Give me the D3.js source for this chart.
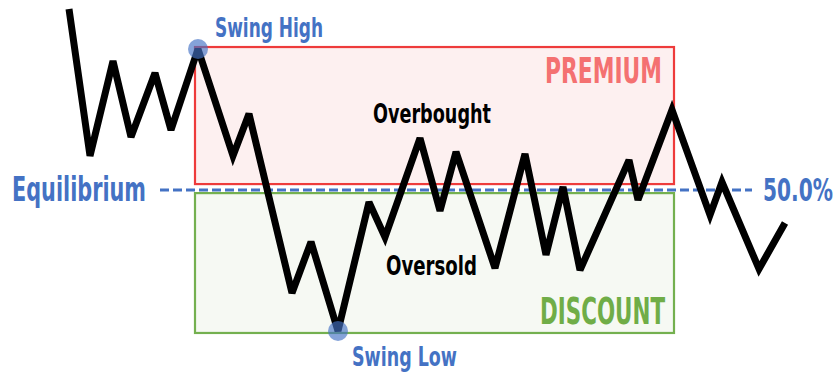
<!DOCTYPE html>
<html><head><meta charset="utf-8">
<script src="https://cdn.jsdelivr.net/npm/d3@7"></script>
<style>html,body{margin:0;padding:0;background:#fff;}svg{display:block;}</style>
</head><body>
<svg id="c" width="838" height="374"></svg>
<script>
// time (arbitrary units) and price (% of swing range: 0 = swing low, 100 = swing high)
const times  = [69, 90, 113, 131, 155, 171, 198, 233, 249, 292, 311, 338, 369, 385, 420, 440, 456, 495, 525, 546, 563, 580, 629, 638, 672, 710, 722, 759, 785];
const prices = [114.2, 62.1, 95.7, 68.8, 91.5, 71.3, 100, 62.1, 77.0, 13.5, 31.6, 0, 45.7, 33.3, 68.4, 42.6, 63.5, 22.3, 62.8, 27.0, 51.1, 21.6, 60.6, 46.5, 78.4, 41.1, 52.8, 22.0, 38.3];
const zones = ["PREMIUM", "DISCOUNT"];
const zoneStart = [195, 195];
const zoneEnd = [674, 674];
const zoneTop = [100.7, 48.9];
const zoneBottom = [52.1, -0.7];
const equilibriumLevel = 50;
const equilibriumLabel = "Equilibrium";
const pctLabel = "50.0%";
const swingLabels = ["Swing High", "Swing Low"];
const swingIdx = [6, 11];
const stateLabels = ["Overbought", "Oversold"];

const svg = d3.select("#c");
const x = d3.scaleLinear().domain([0, 838]).range([0, 838]);
const y = d3.scaleLinear().domain([0, 100]).range([331, 49]);
const FONT = "'DejaVu Sans Condensed','Liberation Sans Narrow',sans-serif";

// zones
const zoneFill = ["#fdf0f0", "#f6f9f3"];
const zoneStroke = ["#ee3b3b", "#74b04f"];
svg.selectAll("rect.zone").data(zones).enter().append("rect").attr("class", "zone")
  .attr("x", (d, i) => x(zoneStart[i])).attr("width", (d, i) => x(zoneEnd[i]) - x(zoneStart[i]))
  .attr("y", (d, i) => y(zoneTop[i])).attr("height", (d, i) => y(zoneBottom[i]) - y(zoneTop[i]))
  .attr("fill", (d, i) => zoneFill[i])
  .attr("stroke", (d, i) => zoneStroke[i]).attr("stroke-width", 2.2);

// equilibrium dashed line
svg.append("line").attr("x1", x(160)).attr("x2", x(752)).attr("y1", y(equilibriumLevel)).attr("y2", y(equilibriumLevel))
  .attr("stroke", "#4472c4").attr("stroke-width", 3).attr("stroke-dasharray", "9,4");

// zone labels
const zoneColor = ["#f47171", "#70ad47"];
const zoneLabelY = [83, 324];
const zoneLabelX = [662, 665];
const zoneLabelW = [117, 125];
svg.selectAll("text.zl").data(zones).enter().append("text").attr("class", "zl")
  .attr("x", (d, i) => zoneLabelX[i]).attr("y", (d, i) => zoneLabelY[i])
  .attr("text-anchor", "end").attr("font-family", FONT).attr("font-weight", 700)
  .attr("font-size", (d, i) => i === 0 ? 36 : 37).attr("fill", (d, i) => zoneColor[i])
  .attr("textLength", (d, i) => zoneLabelW[i]).attr("lengthAdjust", "spacingAndGlyphs")
  .text(d => d);

// price line
const line = d3.line().x((d, i) => x(times[i])).y(d => y(d));
svg.append("path").datum(prices).attr("d", line).attr("fill", "none")
  .attr("stroke", "#000").attr("stroke-width", 7).attr("stroke-linejoin", "miter").attr("stroke-miterlimit", 3);

// swing points
svg.selectAll("circle.sw").data(swingIdx).enter().append("circle").attr("class", "sw")
  .attr("cx", d => x(times[d])).attr("cy", d => y(prices[d])).attr("r", 10)
  .attr("fill", "#4472c4").attr("fill-opacity", 0.65);

// swing labels
const swingLX = [215, 352];
const swingLY = [37, 366];
const swingLW = [108, 105];
svg.selectAll("text.swl").data(swingLabels).enter().append("text").attr("class", "swl")
  .attr("x", (d, i) => swingLX[i]).attr("y", (d, i) => swingLY[i])
  .attr("font-family", FONT).attr("font-weight", 700).attr("font-size", 27).attr("fill", "#4472c4")
  .attr("textLength", (d, i) => swingLW[i]).attr("lengthAdjust", "spacingAndGlyphs").text(d => d);

// state labels
const stateLX = [373, 386];
const stateLY = [123, 275];
const stateLW = [118, 91];
svg.selectAll("text.st").data(stateLabels).enter().append("text").attr("class", "st")
  .attr("x", (d, i) => stateLX[i]).attr("y", (d, i) => stateLY[i])
  .attr("font-family", FONT).attr("font-weight", 700).attr("font-size", 27).attr("fill", "#000")
  .attr("textLength", (d, i) => stateLW[i]).attr("lengthAdjust", "spacingAndGlyphs").text(d => d);

// equilibrium labels
svg.append("text").attr("x", 12).attr("y", 201).attr("font-family", FONT).attr("font-weight", 700)
  .attr("font-size", 33).attr("fill", "#4472c4").attr("textLength", 134).attr("lengthAdjust", "spacingAndGlyphs")
  .text(equilibriumLabel);
svg.append("text").attr("transform", "translate(763,201) scale(1,1.42)")
  .attr("x", 0).attr("y", 0).attr("font-family", FONT).attr("font-weight", 700)
  .attr("font-size", 23).attr("fill", "#4472c4").attr("textLength", 70).attr("lengthAdjust", "spacingAndGlyphs")
  .text(pctLabel);
</script>
</body></html>
